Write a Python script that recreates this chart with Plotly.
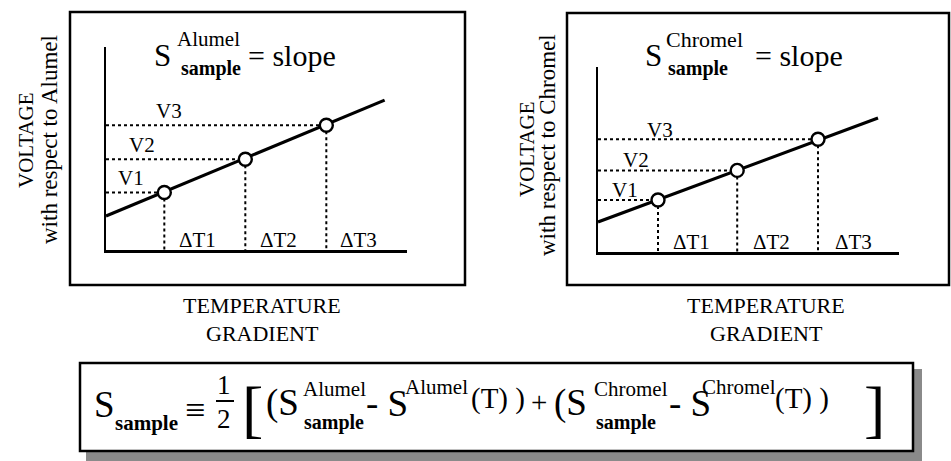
import plotly.graph_objects as go

W, H = 951, 461
FONT = "Liberation Serif"

# ---- data (arbitrary units) ----
# Left panel: voltage with respect to Alumel
alumel_T = [0.72, 1.72, 2.72]
alumel_V = [0.71, 1.12, 1.54]
alumel_line_T = [0.0, 3.44]
alumel_line_V = [0.42, 1.85]

# Right panel: voltage with respect to Chromel
chromel_T = [0.75, 1.74, 2.75]
chromel_V = [0.65, 1.02, 1.41]
chromel_line_T = [0.0, 3.5]
chromel_line_V = [0.375, 1.675]

v_labels = ["V1", "V2", "V3"]
dt_labels = ["\u0394T1", "\u0394T2", "\u0394T3"]


def px(x):
    return x / W


def py(y):
    return 1 - y / H


fig = go.Figure()


def add_panel(T, V, lT, lV, xa, ya):
    for t, v in zip(T, V):
        fig.add_trace(go.Scatter(x=[0, t], y=[v, v], mode="lines",
                                 line=dict(color="black", width=2, dash="dot"),
                                 xaxis=xa, yaxis=ya, hoverinfo="skip"))
        fig.add_trace(go.Scatter(x=[t, t], y=[v, 0], mode="lines",
                                 line=dict(color="black", width=2, dash="dot"),
                                 xaxis=xa, yaxis=ya, hoverinfo="skip"))
    fig.add_trace(go.Scatter(x=lT, y=lV, mode="lines",
                             line=dict(color="black", width=3.2),
                             xaxis=xa, yaxis=ya))
    fig.add_trace(go.Scatter(x=T, y=V, mode="markers",
                             marker=dict(symbol="circle", size=13, color="white",
                                         line=dict(color="black", width=2.4)),
                             xaxis=xa, yaxis=ya))


add_panel(alumel_T, alumel_V, alumel_line_T, alumel_line_V, "x", "y")
add_panel(chromel_T, chromel_V, chromel_line_T, chromel_line_V, "x2", "y2")

ax_common = dict(showline=True, linecolor="black", linewidth=2.5, showgrid=False,
                 zeroline=False, showticklabels=False, ticks="", fixedrange=True)

fig.update_layout(
    width=W, height=H, autosize=False,
    margin=dict(l=0, r=0, t=0, b=0),
    paper_bgcolor="white", plot_bgcolor="white",
    showlegend=False,
    xaxis=dict(domain=[px(106), px(407)], range=[0, 3.716], anchor="y", **ax_common),
    yaxis=dict(domain=[py(250), py(47)], range=[0, 2.506], anchor="x", **ax_common),
    xaxis2=dict(domain=[px(598), px(899)], range=[0, 3.7625], anchor="y2", **ax_common),
    yaxis2=dict(domain=[py(252), py(67)], range=[0, 2.3125], anchor="x2", **ax_common),
)

shapes = []
# panel frames
shapes.append(dict(type="rect", xref="paper", yref="paper", x0=px(70), x1=px(465),
                   y0=py(285), y1=py(12), line=dict(color="black", width=2.5)))
shapes.append(dict(type="rect", xref="paper", yref="paper", x0=px(567), x1=px(949),
                   y0=py(285), y1=py(13), line=dict(color="black", width=2.5)))
# bottom box shadow
shapes.append(dict(type="rect", xref="paper", yref="paper", x0=px(913), x1=px(922),
                   y0=py(461), y1=py(369), line=dict(width=0), fillcolor="#8a8a8a"))
shapes.append(dict(type="rect", xref="paper", yref="paper", x0=px(86), x1=px(922),
                   y0=py(461), y1=py(451), line=dict(width=0), fillcolor="#8a8a8a"))
# bottom box
shapes.append(dict(type="rect", xref="paper", yref="paper", x0=px(80), x1=px(913),
                   y0=py(451), y1=py(363), line=dict(color="black", width=2.5),
                   fillcolor="white"))
# fraction bar
shapes.append(dict(type="line", xref="paper", yref="paper", x0=px(216), x1=px(234),
                   y0=py(401), y1=py(401), line=dict(color="black", width=2)))
fig.update_layout(shapes=shapes)

ann = []


def T(x, y, text, size, xanchor="left", angle=0):
    ann.append(dict(x=px(x), y=py(y), xref="paper", yref="paper", text=text,
                    showarrow=False, xanchor=xanchor, yanchor="middle",
                    textangle=angle, font=dict(family=FONT, size=size, color="black")))


# top formulas
T(152, 56, "S", 31)
T(175, 39, "Alumel", 21)
T(179, 68, "<b>sample</b>", 20)
T(246, 56, "= slope", 30)

T(643, 56, "S", 31)
T(664, 39, "Chromel", 22)
T(666, 68, "<b>sample</b>", 20)
T(753, 56, "= slope", 30)

# point labels
for lab, (x, y) in zip(v_labels, [(131, 178), (142, 145), (169, 111)]):
    T(x, y, lab, 21, xanchor="center")
for lab, (x, y) in zip(dt_labels, [(197, 240), (278, 240), (358, 240)]):
    T(x, y, lab, 21, xanchor="center")
for lab, (x, y) in zip(v_labels, [(625, 190), (636, 160), (660, 130)]):
    T(x, y, lab, 21, xanchor="center")
for lab, (x, y) in zip(dt_labels, [(691, 242), (771, 242), (853, 242)]):
    T(x, y, lab, 21, xanchor="center")

# axis titles
T(26, 140, "VOLTAGE", 21, xanchor="center", angle=-90)
T(50, 140, "with respect to Alumel", 23, xanchor="center", angle=-90)
T(527, 149, "VOLTAGE", 21, xanchor="center", angle=-90)
T(548, 145, "with respect to Chromel", 23, xanchor="center", angle=-90)
T(262, 305, "TEMPERATURE", 22, xanchor="center")
T(262, 333, "GRADIENT", 22, xanchor="center")
T(766, 305, "TEMPERATURE", 22, xanchor="center")
T(766, 333, "GRADIENT", 22, xanchor="center")

# bottom formula
T(92, 404, "S", 37)
T(113, 423, "<b>sample</b>", 21)
T(183, 410, "\u2261", 36)
T(224, 385, "1", 27, xanchor="center")
T(224, 419, "2", 27, xanchor="center")
T(240, 408, "[", 64)
T(264, 403, "(S", 37)
T(301, 389, "Alumel", 21)
T(302, 422, "<b>sample</b>", 20)
T(364, 403, "- S", 37)
T(403, 387, "Alumel", 21)
T(469, 398, "(T) )", 29)
T(529, 402, "+", 29)
T(552, 403, "(S", 37)
T(592, 389, "Chromel", 21)
T(594, 422, "<b>sample</b>", 20)
T(667, 403, "- S", 37)
T(700, 387, "Chromel", 21)
T(773, 398, "(T) )", 29)
T(862, 408, "]", 64)

fig.update_layout(annotations=ann)

fig.write_html(
    "out.html",
    config={"displayModeBar": False, "staticPlot": True},
    post_script="document.body.style.margin='0';document.body.style.overflow='hidden';",
)
